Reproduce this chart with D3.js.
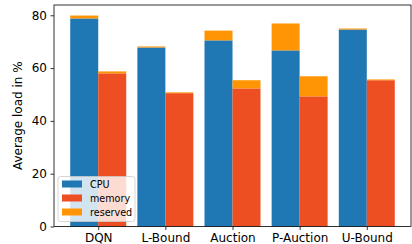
<!DOCTYPE html>
<html>
<head>
<meta charset="utf-8">
<script src="https://cdn.jsdelivr.net/npm/d3@7"></script>
<style>
  body { margin: 0; background: #fff; }
  svg { display: block; font-family: "DejaVu Sans", sans-serif; }
</style>
</head>
<body>
<div id="chart"></div>
<script>
// data
var categories = ["DQN", "L-Bound", "Auction", "P-Auction", "U-Bound"];
var cpu = [78.8, 67.8, 70.5, 66.7, 74.6];
var cpuReserved = [1.1, 0.4, 3.7, 10.2, 0.4];
var memory = [58.0, 50.5, 52.3, 49.3, 55.4];
var memReserved = [0.75, 0.3, 3.1, 7.6, 0.3];
var yTicks = [0, 20, 40, 60, 80];
var legendItems = ["CPU", "memory", "reserved"];

var colors = {CPU: "#1f77b4", memory: "#ee4f22", reserved: "#ff9505"};

var W = 412, H = 244;
var margin = {top: 5, right: 1, bottom: 17.5, left: 54};
var width = W - margin.left - margin.right,
    height = H - margin.top - margin.bottom;

var barW = 0.417;

var svg = d3.select("#chart").append("svg")
    .attr("width", W)
    .attr("height", H)
  .append("g")
    .attr("transform", "translate(" + margin.left + "," + margin.top + ")");

// x: one unit per category, 5% padding like matplotlib
var lo = -barW, hi = categories.length - 1 + barW;
var pad = (hi - lo) * 0.05;
var x = d3.scaleLinear().domain([lo - pad, hi + pad]).range([0, width]);

var ymax = d3.max(cpu.map(function(d, i) { return d + cpuReserved[i]; })) * 1.05;
var y = d3.scaleLinear().domain([0, ymax]).range([height, 0]);

// stacked bars
function drawBars(base, extra, offset, color) {
  svg.selectAll(null).data(base).enter().append("rect")
    .attr("x", function(d, i) { return x(i + offset); })
    .attr("y", function(d) { return y(d); })
    .attr("width", x(barW) - x(0))
    .attr("height", function(d) { return y(0) - y(d); })
    .attr("fill", color);
  svg.selectAll(null).data(extra).enter().append("rect")
    .attr("x", function(d, i) { return x(i + offset); })
    .attr("y", function(d, i) { return y(base[i] + d); })
    .attr("width", x(barW) - x(0))
    .attr("height", function(d, i) { return y(base[i]) - y(base[i] + d); })
    .attr("fill", colors.reserved);
}
drawBars(cpu, cpuReserved, -barW, colors.CPU);
drawBars(memory, memReserved, 0, colors.memory);

// axes
var xAxis = svg.append("g")
  .attr("transform", "translate(0," + height + ")")
  .call(d3.axisBottom(x).tickValues(d3.range(categories.length))
    .tickFormat(function(d) { return categories[d]; })
    .tickSizeInner(3.5).tickSizeOuter(0).tickPadding(3.5));
var yAxis = svg.append("g")
  .call(d3.axisLeft(y).tickValues(yTicks).tickSizeInner(3.5).tickSizeOuter(0).tickPadding(3.5));

[xAxis, yAxis].forEach(function(a) {
  a.select(".domain").remove();
  a.selectAll("line").attr("stroke", "#000").attr("stroke-width", 0.8);
  a.selectAll("text").attr("font-size", 12).attr("fill", "#000")
    .attr("font-family", "DejaVu Sans, sans-serif");
});

// frame
svg.append("rect")
  .attr("width", width).attr("height", height)
  .attr("fill", "none").attr("stroke", "#000").attr("stroke-width", 0.8);

// y label
svg.append("text")
  .attr("transform", "translate(-32," + (height / 2) + ")rotate(-90)")
  .attr("text-anchor", "middle")
  .attr("font-size", 12)
  .text("Average load in %");

// legend
var lg = svg.append("g").attr("transform", "translate(4," + (height - 50) + ")");
lg.append("rect")
  .attr("width", 77).attr("height", 45).attr("rx", 2.5)
  .attr("fill", "#fff").attr("fill-opacity", 0.8)
  .attr("stroke", "#ccc").attr("stroke-width", 0.8);
legendItems.forEach(function(k, i) {
  lg.append("rect")
    .attr("x", 4).attr("y", 4 + i * 14)
    .attr("width", 20).attr("height", 7)
    .attr("fill", colors[k]);
  lg.append("text")
    .attr("x", 32).attr("y", 11 + i * 14)
    .attr("font-size", 9.6)
    .text(k);
});
</script>
</body>
</html>
